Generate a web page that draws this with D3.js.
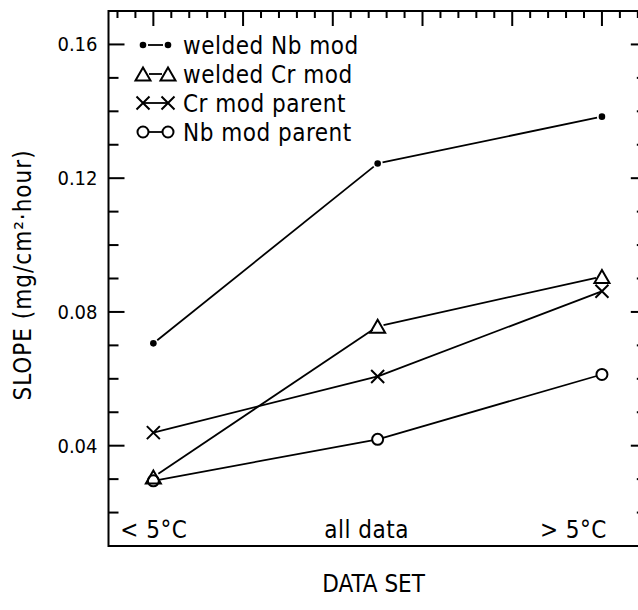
<!DOCTYPE html>
<html>
<head>
<meta charset="utf-8">
<script src="https://cdn.jsdelivr.net/npm/d3@7"></script>
<style>
  html, body { margin: 0; padding: 0; background: #fff; }
  svg text { font-family: "DejaVu Sans Condensed", "DejaVu Sans", sans-serif; fill: #000; }
</style>
</head>
<body>
<svg id="chart" width="638" height="610"></svg>
<script>
// Data sets along the x axis and the slope measured for each alloy condition
const categories = ["< 5°C", "all data", "> 5°C"];
const categoryPos = [0, 2.5, 5];            // position of each data set in x axis units
const seriesNames = ["welded Nb mod", "welded Cr mod", "Cr mod parent", "Nb mod parent"];
const seriesSymbols = ["dot", "triangle", "cross", "circle"];
const weldedNbMod = [0.0706, 0.1244, 0.1384];
const weldedCrMod = [0.0306, 0.0757, 0.0906];
const crModParent = [0.0439, 0.0607, 0.0862];
const nbModParent = [0.0295, 0.0419, 0.0613];
const yTicks = [0.04, 0.08, 0.12, 0.16];
const yTickLabels = ["0.04", "0.08", "0.12", "0.16"];
const yMinorTicks = [0.02, 0.03, 0.05, 0.06, 0.07, 0.09, 0.10, 0.11, 0.13, 0.14, 0.15];
const xMajorTicks = [0, 1, 2, 3, 4, 5];
const xMinorTicks = [-0.4, -0.2, 0.2, 0.4, 0.6, 0.8, 1.2, 1.4, 1.6, 1.8, 2.2, 2.4, 2.6, 2.8,
                     3.2, 3.4, 3.6, 3.8, 4.2, 4.4, 4.6, 4.8, 5.2, 5.4];

const seriesValues = [weldedNbMod, weldedCrMod, crModParent, nbModParent];

const svg = d3.select("#chart");

// Plot frame
const frameL = 108.5, frameR = 646.8, frameT = 11, frameB = 546;

const xScale = d3.scaleLinear().domain([-0.5, 5.5]).range([frameL, frameR]);
const yScale = d3.scaleLinear().domain([0.01, 0.17]).range([frameB, frameT]);

svg.append("rect")
  .attr("x", frameL).attr("y", frameT)
  .attr("width", frameR - frameL).attr("height", frameB - frameT)
  .attr("fill", "none").attr("stroke", "#000").attr("stroke-width", 2);

// Inward-pointing tick marks on the top, left and right edges, as thin filled bars
const tickLayer = svg.append("g").attr("fill", "#000");
tickLayer.selectAll("rect.xmaj").data(xMajorTicks).join("rect").attr("class", "xmaj")
  .attr("x", d => xScale(d) - 1).attr("y", frameT).attr("width", 2).attr("height", 15);
tickLayer.selectAll("rect.xmin").data(xMinorTicks).join("rect").attr("class", "xmin")
  .attr("x", d => xScale(d) - 1).attr("y", frameT).attr("width", 2).attr("height", 7);
tickLayer.selectAll("rect.ymajl").data(yTicks).join("rect").attr("class", "ymajl")
  .attr("x", frameL).attr("y", d => yScale(d) - 1).attr("width", 16).attr("height", 2);
tickLayer.selectAll("rect.ymajr").data(yTicks).join("rect").attr("class", "ymajr")
  .attr("x", frameR - 16).attr("y", d => yScale(d) - 1).attr("width", 16).attr("height", 2);
tickLayer.selectAll("rect.yminl").data(yMinorTicks).join("rect").attr("class", "yminl")
  .attr("x", frameL).attr("y", d => yScale(d) - 1).attr("width", 10).attr("height", 2);
tickLayer.selectAll("rect.yminr").data(yMinorTicks).join("rect").attr("class", "yminr")
  .attr("x", frameR - 10).attr("y", d => yScale(d) - 1).attr("width", 10).attr("height", 2);

// Y tick labels
svg.append("g").selectAll("text").data(yTicks).join("text")
  .attr("x", frameL - 11)
  .attr("y", d => yScale(d) + 7)
  .attr("text-anchor", "end")
  .style("font-size", "20px")
  .text((d, i) => yTickLabels[i]);

// Data set labels along the bottom, inside the frame
const xLabelAnchor = ["start", "middle", "end"];
const xLabelShift = [-33, -11, 5];
svg.append("g").selectAll("text").data(categories).join("text")
  .attr("x", (d, i) => xScale(categoryPos[i]) + xLabelShift[i])
  .attr("y", frameB - 8)
  .attr("text-anchor", (d, i) => xLabelAnchor[i])
  .style("font-size", "24px").style("letter-spacing", "0.5px")
  .text(d => d);

// Axis titles
svg.append("text")
  .attr("transform", `translate(31,275) rotate(-90)`)
  .attr("text-anchor", "middle")
  .style("font-size", "24px").style("letter-spacing", "1px")
  .text("SLOPE (mg/cm²·hour)");

svg.append("text")
  .attr("x", (frameL + frameR) / 2 - 4)
  .attr("y", 592)
  .attr("text-anchor", "middle")
  .style("font-size", "24px")
  .text("DATA SET");

// Marker drawing
const gapBySymbol = { dot: 5, triangle: 6, cross: 1, circle: 5.5 };

function drawMarker(g, sym, cx, cy) {
  if (sym === "dot") {
    g.append("circle").attr("cx", cx).attr("cy", cy).attr("r", 3.3).attr("fill", "#000");
  } else if (sym === "triangle") {
    const w = 7.5, h = 6.5;
    g.append("path")
      .attr("d", `M${cx - w},${cy + h}L${cx + w},${cy + h}L${cx},${cy - h}Z`)
      .attr("fill", "none").attr("stroke", "#000").attr("stroke-width", 2)
      .attr("stroke-linejoin", "miter");
  } else if (sym === "cross") {
    const s = 6.5;
    g.append("path")
      .attr("d", `M${cx - s},${cy - s}L${cx + s},${cy + s}M${cx - s},${cy + s}L${cx + s},${cy - s}`)
      .attr("stroke", "#000").attr("stroke-width", 2).attr("fill", "none");
  } else if (sym === "circle") {
    g.append("circle").attr("cx", cx).attr("cy", cy).attr("r", 5.5)
      .attr("fill", "none").attr("stroke", "#000").attr("stroke-width", 2);
  }
}

function drawSegment(g, sym, x1, y1, x2, y2) {
  const dx = x2 - x1, dy = y2 - y1, len = Math.hypot(dx, dy);
  const gap = gapBySymbol[sym];
  const ux = dx / len, uy = dy / len;
  g.append("line")
    .attr("x1", x1 + ux * gap).attr("y1", y1 + uy * gap)
    .attr("x2", x2 - ux * gap).attr("y2", y2 - uy * gap)
    .attr("stroke", "#000").attr("stroke-width", 1.8);
}

// Series lines and markers
const plot = svg.append("g");
seriesValues.forEach((vals, si) => {
  const sym = seriesSymbols[si];
  const pts = vals.map((v, i) => [xScale(categoryPos[i]), yScale(v)]);
  const g = plot.append("g");
  for (let i = 0; i < pts.length - 1; i++) {
    drawSegment(g, sym, pts[i][0], pts[i][1], pts[i + 1][0], pts[i + 1][1]);
  }
  pts.forEach(p => drawMarker(g, sym, p[0], p[1]));
});

// Legend
const legendX1 = 143, legendX2 = 168, legendTextX = 183, legendY0 = 45, legendDy = 29;
const legend = svg.append("g");
seriesNames.forEach((name, i) => {
  const sym = seriesSymbols[i];
  const ly = legendY0 + i * legendDy;
  const g = legend.append("g");
  drawSegment(g, sym, legendX1, ly, legendX2, ly);
  drawMarker(g, sym, legendX1, ly);
  drawMarker(g, sym, legendX2, ly);
  g.append("text")
    .attr("x", legendTextX).attr("y", ly + 8.5)
    .style("font-size", "24px").style("letter-spacing", "0.5px")
    .text(name);
});
</script>
</body>
</html>
